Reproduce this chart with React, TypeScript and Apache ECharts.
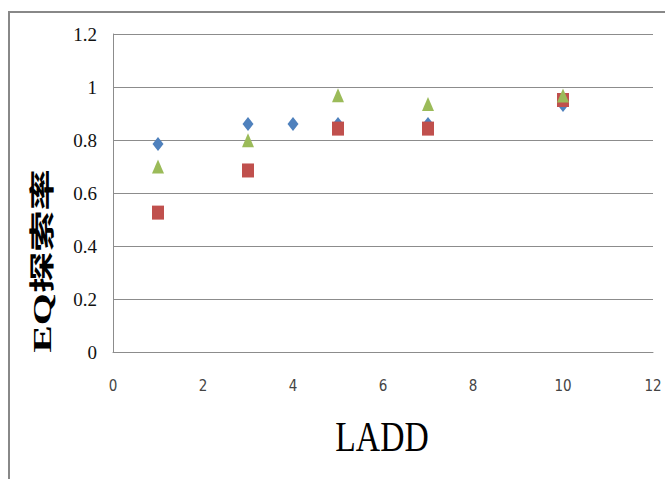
import React, { useEffect, useRef } from "react";
import * as echarts from "echarts";

const xTicks = [0, 2, 4, 6, 8, 10, 12];
const yTicks = [0, 0.2, 0.4, 0.6, 0.8, 1, 1.2];

const blueX = [1, 3, 4, 5, 7, 10];
const blueY = [0.785, 0.86, 0.86, 0.86, 0.86, 0.932];

const redX = [1, 3, 5, 7, 10];
const redY = [0.526, 0.685, 0.843, 0.843, 0.951];

const greenX = [1, 3, 5, 7, 10];
const greenY = [0.7, 0.799, 0.969, 0.936, 0.968];

const xTitle = "LADD";
const yTitle = "EQ探索率";

const pairs = (xs: number[], ys: number[]) => xs.map((x, i) => [x, ys[i]]);

export default function App() {
  const ref = useRef<HTMLDivElement>(null);
  useEffect(() => {
    if (!ref.current) return;
    const chart = echarts.init(ref.current, null, { renderer: "svg" });
    const grid = "#8c8c8c";
    chart.setOption({
      animation: false,
      backgroundColor: "#ffffff",
      grid: { left: 113, top: 34, right: 12, bottom: 127, containLabel: false },
      xAxis: {
        type: "value",
        min: xTicks[0],
        max: xTicks[xTicks.length - 1],
        interval: 2,
        axisLine: { show: true, lineStyle: { color: grid, width: 1 } },
        axisTick: { show: false },
        splitLine: { show: false },
        axisLabel: {
          margin: 26,
          fontFamily: "Liberation Sans Narrow, DejaVu Sans Condensed, sans-serif",
          fontSize: 15,
          color: "#444",
        },
      },
      yAxis: {
        type: "value",
        min: yTicks[0],
        max: yTicks[yTicks.length - 1],
        interval: 0.2,
        axisLine: { show: true, lineStyle: { color: grid, width: 1 } },
        axisTick: { show: false },
        splitLine: { show: true, lineStyle: { color: grid, width: 1 } },
        axisLabel: {
          margin: 16,
          fontFamily: "Liberation Serif, serif",
          fontSize: 19,
          color: "#111",
          formatter: (v: number) => String(Math.round(v * 10) / 10),
        },
      },
      graphic: [
        { type: "line", shape: { x1: 8, y1: 12, x2: 665, y2: 12 }, style: { stroke: "#888", lineWidth: 2 } },
        { type: "line", shape: { x1: 9, y1: 12, x2: 9, y2: 479 }, style: { stroke: "#888", lineWidth: 2 } },
        {
          type: "text",
          x: 382,
          y: 437,
          scaleX: 0.8,
          style: {
            text: xTitle,
            font: "42px 'Liberation Serif', serif",
            fill: "#000",
            textAlign: "center",
            textVerticalAlign: "middle",
          },
        },
        {
          type: "text",
          x: 43,
          y: 261,
          rotation: Math.PI / 2,
          scaleX: 1.72,
          scaleY: 1.05,
          style: {
            text: yTitle,
            font: "bold 24px 'Liberation Serif', 'Noto Sans CJK SC', serif",
            fill: "#000",
            textAlign: "center",
            textVerticalAlign: "middle",
          },
        },
      ],
      series: [
        {
          type: "scatter",
          data: pairs(blueX, blueY),
          symbol: "diamond",
          symbolSize: [11, 14],
          itemStyle: { color: "#4F81BD", opacity: 1 },
        },
        {
          type: "scatter",
          data: pairs(redX, redY),
          symbol: "rect",
          symbolSize: [12, 14],
          itemStyle: { color: "#C0504D", opacity: 1 },
        },
        {
          type: "scatter",
          data: pairs(greenX, greenY),
          symbol: "triangle",
          symbolSize: [12, 14],
          itemStyle: { color: "#9BBB59", opacity: 1 },
        },
      ],
    });
    return () => chart.dispose();
  }, []);
  return (
    <div
      ref={ref}
      style={{ position: "fixed", left: 0, top: 0, width: 665, height: 479 }}
    />
  );
}
